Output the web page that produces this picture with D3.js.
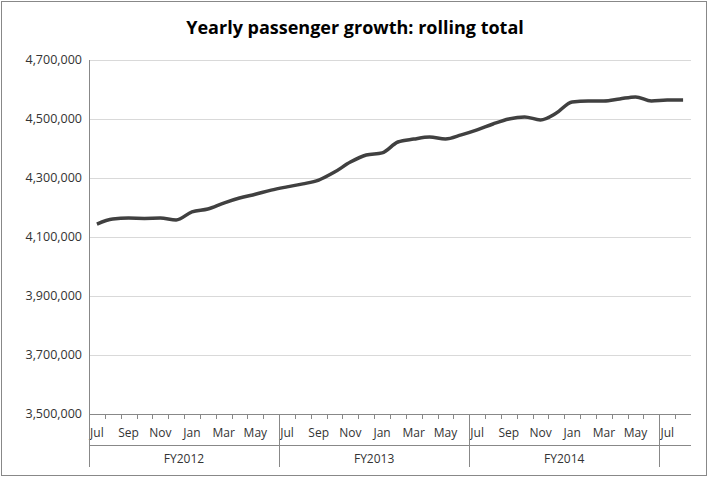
<!DOCTYPE html>
<html><head><meta charset="utf-8">
<script src="https://cdn.jsdelivr.net/npm/d3@7"></script>
<style>body{margin:0;background:#fff}text{font-family:"Open Sans","Noto Sans",sans-serif}</style>
</head><body><svg id="c" width="709" height="478"></svg>
<script>
const months = ["Jul","Aug","Sep","Oct","Nov","Dec","Jan","Feb","Mar","Apr","May","Jun",
  "Jul","Aug","Sep","Oct","Nov","Dec","Jan","Feb","Mar","Apr","May","Jun",
  "Jul","Aug","Sep","Oct","Nov","Dec","Jan","Feb","Mar","Apr","May","Jun","Jul","Aug"];
const years = [{name:"FY2012",start:0,end:12},{name:"FY2013",start:12,end:24},{name:"FY2014",start:24,end:36},{name:"",start:36,end:38}];
const values = [4144000,4161000,4164000,4163000,4164000,4158000,4185000,4195000,4215000,4232000,4245000,4259000,
  4270000,4280000,4293000,4320000,4354000,4378000,4385000,4422000,4432000,4439000,4432000,4446000,
  4463000,4483000,4500000,4507000,4497000,4520000,4558000,4561000,4561000,4568000,4575000,4561000,4564000,4564000];
const yTicks = [3500000,3700000,3900000,4100000,4300000,4500000,4700000];

const svg = d3.select("#c");
svg.append("rect").attr("x",1.5).attr("y",1.5).attr("width",705).attr("height",474)
  .attr("fill","#fff").attr("stroke","#888");
svg.append("text").attr("x",355).attr("y",34).attr("text-anchor","middle")
  .attr("font-size",18).attr("font-weight","bold").text("Yearly passenger growth: rolling total");

const L = 89, R = 691, T = 60, B = 414;
const x = d3.scaleBand().domain(d3.range(months.length)).range([L,R]);
const y = d3.scaleLinear().domain([3500000,4700000]).range([B,T]);
const fmt = d3.format(",");

svg.selectAll("line.g").data(yTicks).join("line").attr("class","g")
  .attr("x1",L).attr("x2",R).attr("y1",d=>y(d)+0.5).attr("y2",d=>y(d)+0.5)
  .attr("stroke",d=>d===3500000?"#888":"#d9d9d9");
svg.append("line").attr("x1",L+0.5).attr("x2",L+0.5).attr("y1",T).attr("y2",B).attr("stroke","#888");
svg.selectAll("text.yt").data(yTicks).join("text").attr("class","yt")
  .attr("x",L-7).attr("y",d=>y(d)+4).attr("text-anchor","end").attr("font-size",12.5).attr("fill","#333")
  .text(d=>fmt(d));

// month labels
svg.selectAll("text.m").data(months).join("text").attr("class","m")
  .attr("x",(d,i)=>x(i)+x.bandwidth()/2).attr("y",437).attr("text-anchor","middle")
  .attr("font-size",12).attr("fill","#333").text((d,i)=>i%2===0?d:"");
// year groups
const bounds = [0,12,24,36];
svg.selectAll("line.sep").data(bounds).join("line").attr("class","sep")
  .attr("x1",d=>Math.round(x(d))+0.5).attr("x2",d=>Math.round(x(d))+0.5)
  .attr("y1",B).attr("y2",467).attr("stroke","#888");
svg.selectAll("line.sm").data(d3.range(1,38)).join("line").attr("class","sm")
  .attr("x1",d=>Math.round(x(d))+0.5).attr("x2",d=>Math.round(x(d))+0.5)
  .attr("y1",B).attr("y2",B+5).attr("stroke","#888");
svg.append("line").attr("x1",L).attr("x2",R).attr("y1",445.5).attr("y2",445.5).attr("stroke","#888");
svg.selectAll("text.yr").data(years).join("text").attr("class","yr")
  .attr("x",d=>(x(d.start)+(d.end<38?x(d.end):R))/2).attr("y",463).attr("text-anchor","middle")
  .attr("font-size",12).attr("fill","#333").text(d=>d.name);

const line = d3.line().x((d,i)=>x(i)+x.bandwidth()/2).y(d=>y(d)).curve(d3.curveMonotoneX);
svg.append("path").datum(values).attr("d",line).attr("fill","none")
  .attr("stroke","#404040").attr("stroke-width",3.5).attr("stroke-linejoin","round");
</script></body></html>
